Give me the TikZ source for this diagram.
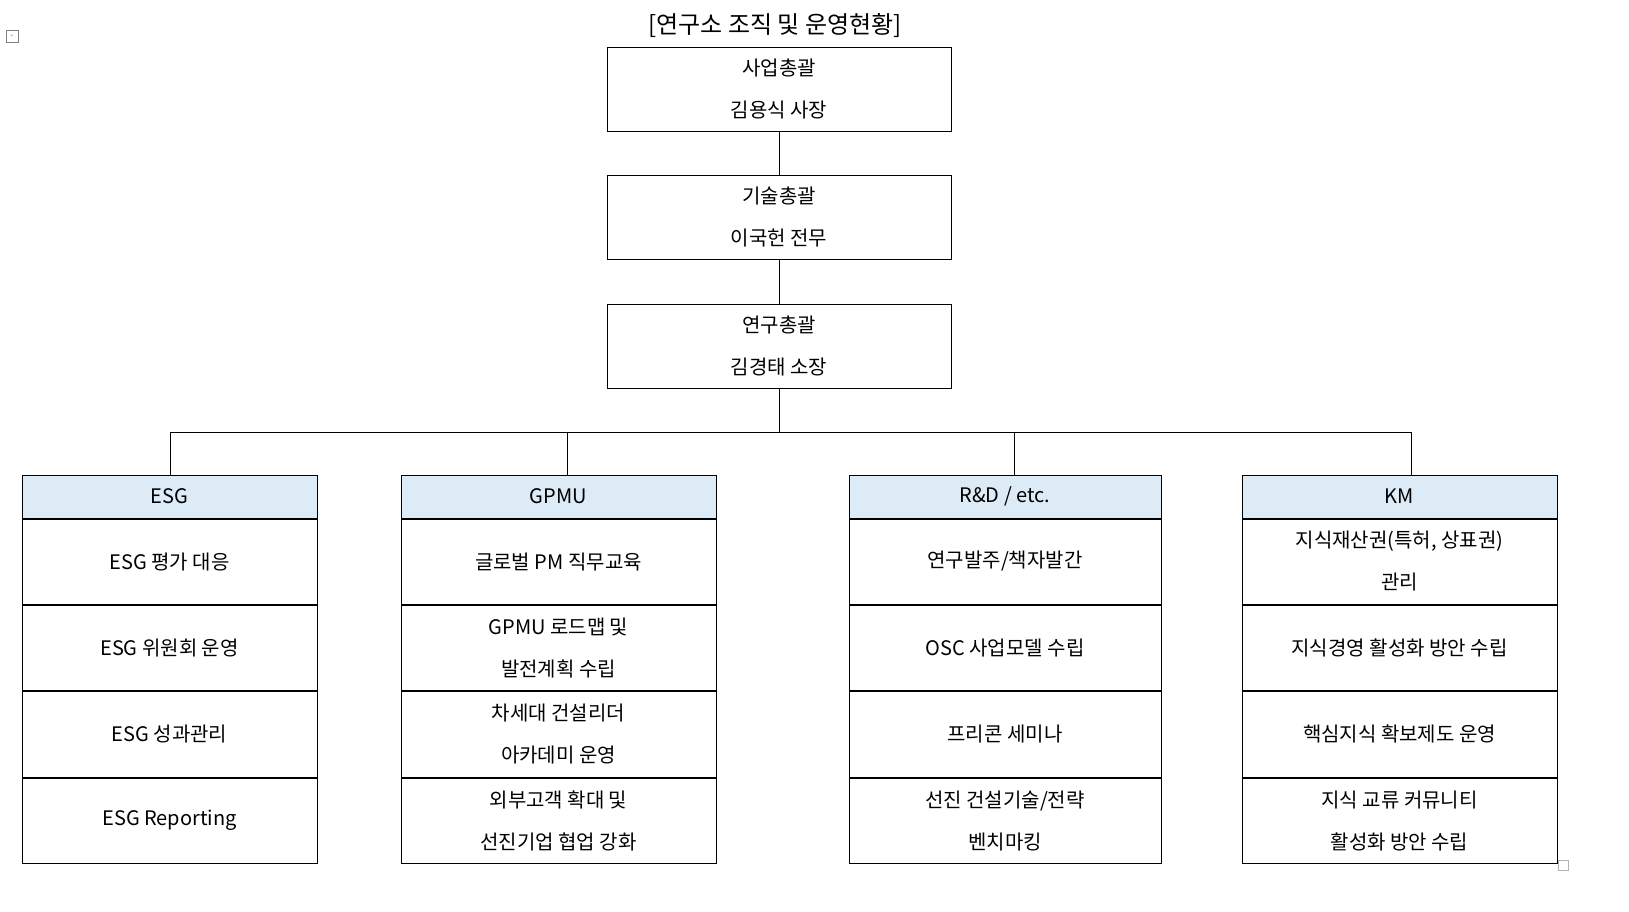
\documentclass[tikz,border=0pt]{standalone}
\usepackage{fontspec}
\setmainfont{Noto Sans CJK KR}
\usetikzlibrary{positioning}
\definecolor{headblue}{HTML}{DDEBF7}
\tikzstyle{box} = [rectangle, draw, line width=1pt, align=center, inner sep=0pt,
    font=\fontsize{20}{42}\selectfont]
\tikzstyle{top} = [box, minimum width=344pt, minimum height=84pt]
\tikzstyle{line} = [draw, line width=1pt]

\begin{document}
\begin{tikzpicture}[x=1pt, y=-1pt]
    \useasboundingbox (0,0) rectangle (1629,911);
    % Title
    \node [font=\fontsize{24}{28}\selectfont] (title) at (775,26) {[연구소 조직 및 운영현황]};
    \node [draw=gray, minimum size=12pt, inner sep=0pt, font=\tiny, text=gray] (icon) at (12,36) {+};
    \node [draw=gray!60, minimum size=10pt, inner sep=0pt] (mark) at (1563,865) {};

    % Top chain
    \node [top] (ceo) at (779,89) {사업총괄\\김용식 사장};
    \node [top] (cto) at (779,217) {기술총괄\\이국헌 전무};
    \node [top] (lab) at (779,346) {연구총괄\\김경태 소장};
    \draw [line] (ceo) -- (cto);
    \draw [line] (cto) -- (lab);

    % Bus
    \coordinate (bus) at (779,432);
    \draw [line] (lab) -- (bus);
    \draw [line] (170,475) |- (1411,432) -- (1411,475);
    \draw [line] (567,432) -- (567,475);
    \draw [line] (1014,432) -- (1014,475);

    % ESG
    \node [box, fill=headblue, minimum width=295pt, minimum height=43pt] (esg) at (169.5,496.5) {ESG};
    \node [box, minimum width=295pt, minimum height=85pt, below=0pt of esg] (esg1) {ESG 평가 대응};
    \node [box, minimum width=295pt, minimum height=85pt, below=0pt of esg1] (esg2) {ESG 위원회 운영};
    \node [box, minimum width=295pt, minimum height=86pt, below=0pt of esg2] (esg3) {ESG 성과관리};
    \node [box, minimum width=295pt, minimum height=85pt, below=0pt of esg3] (esg4) {ESG Reporting};

    % GPMU
    \node [box, fill=headblue, minimum width=315pt, minimum height=43pt] (gpmu) at (558.5,496.5) {GPMU};
    \node [box, minimum width=315pt, minimum height=85pt, below=0pt of gpmu] (gpmu1) {글로벌 PM 직무교육};
    \node [box, minimum width=315pt, minimum height=85pt, below=0pt of gpmu1] (gpmu2) {GPMU 로드맵 및\\발전계획 수립};
    \node [box, minimum width=315pt, minimum height=86pt, below=0pt of gpmu2] (gpmu3) {차세대 건설리더\\아카데미 운영};
    \node [box, minimum width=315pt, minimum height=85pt, below=0pt of gpmu3] (gpmu4) {외부고객 확대 및\\선진기업 협업 강화};

    % R&D
    \node [box, fill=headblue, minimum width=312pt, minimum height=43pt] (rnd) at (1005,496.5) {R\&D / etc.};
    \node [box, minimum width=312pt, minimum height=85pt, below=0pt of rnd] (rnd1) {연구발주/책자발간};
    \node [box, minimum width=312pt, minimum height=85pt, below=0pt of rnd1] (rnd2) {OSC 사업모델 수립};
    \node [box, minimum width=312pt, minimum height=86pt, below=0pt of rnd2] (rnd3) {프리콘 세미나};
    \node [box, minimum width=312pt, minimum height=85pt, below=0pt of rnd3] (rnd4) {선진 건설기술/전략\\벤치마킹};

    % KM
    \node [box, fill=headblue, minimum width=315pt, minimum height=43pt] (km) at (1399.5,496.5) {KM};
    \node [box, minimum width=315pt, minimum height=85pt, below=0pt of km] (km1) {지식재산권(특허, 상표권)\\관리};
    \node [box, minimum width=315pt, minimum height=85pt, below=0pt of km1] (km2) {지식경영 활성화 방안 수립};
    \node [box, minimum width=315pt, minimum height=86pt, below=0pt of km2] (km3) {핵심지식 확보제도 운영};
    \node [box, minimum width=315pt, minimum height=85pt, below=0pt of km3] (km4) {지식 교류 커뮤니티\\활성화 방안 수립};
\end{tikzpicture}
\end{document}
